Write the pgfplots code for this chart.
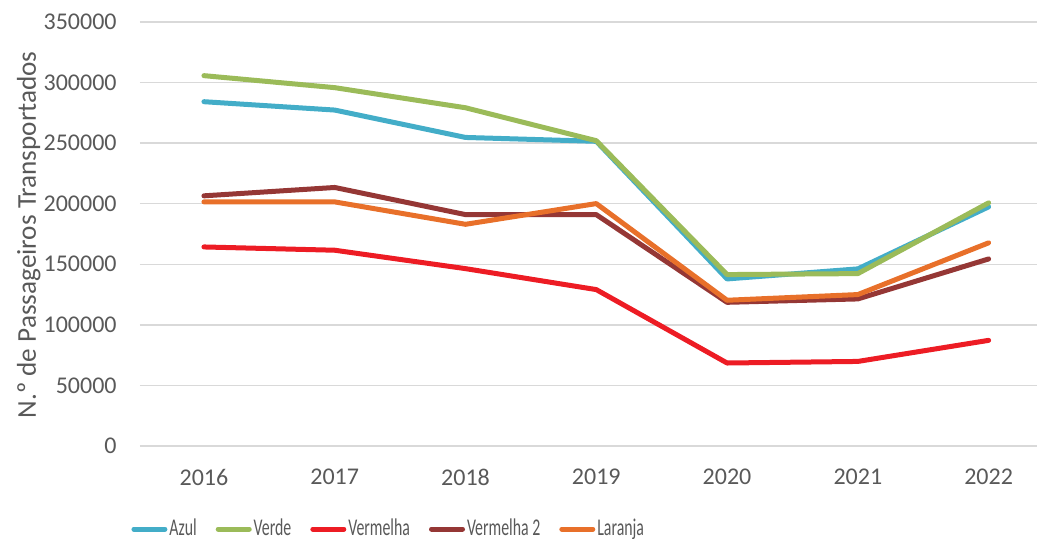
\documentclass[border=0pt]{standalone}
\usepackage{pgfplots}
\pgfplotsset{compat=1.18}
\usepackage{fontspec}
\setmainfont{Carlito}
\definecolor{txt}{HTML}{595959}
\definecolor{grd}{HTML}{D9D9D9}
\definecolor{azul}{HTML}{43ADC8}
\definecolor{verde}{HTML}{9BBB59}
\definecolor{vermelha}{HTML}{ED1C24}
\definecolor{vermelha2}{HTML}{953735}
\definecolor{laranja}{HTML}{E8702A}
\newcommand{\legtxt}[1]{\scalebox{0.66}[1]{#1}}
\begin{document}
\begin{tikzpicture}
\useasboundingbox (0,0) rectangle (519pt,269.5pt);
\begin{axis}[
  at={(70pt,46.5pt)}, anchor=south west,
  scale only axis, width=448.5pt, height=212pt,
  xmin=-0.489, xmax=6.37, ymin=0, ymax=350000,
  xtick={0,...,6},
  xticklabels={2016,2017,2018,2019,2020,2021,2022},
  ytick={0,50000,100000,150000,200000,250000,300000,350000},
  yticklabels={0,50000,100000,150000,200000,250000,300000,350000},
  scaled y ticks=false,
  ymajorgrids, grid style={grd, line width=0.75pt},
  axis line style={draw=none},
  major tick length=0pt,
  tick label style={font=\fontsize{12}{14}\selectfont, text=txt, inner sep=0pt},
  xticklabel style={anchor=center, yshift=-15.5pt},
  yticklabel style={anchor=east, xshift=-11.5pt},
  ylabel={N.º de Passageiros Transportados},
  ylabel style={font=\fontsize{13.6}{16}\selectfont, text=txt, anchor=center, inner sep=0pt, at={(axis description cs:-0.124,0.498)}},
  legend columns=5,
  legend style={draw=none, fill=none, inner sep=0pt, at={(axis description cs:-0.01,-0.196)}, anchor=west,
    font=\fontsize{12}{14}\selectfont, text=txt,
    nodes={inner sep=1pt},
    /tikz/every even column/.append style={column sep=8.5pt}},
  legend image code/.code={\draw[#1, line width=2.5pt, line cap=round] (1.25pt,0pt) -- (16.75pt,0pt);},
  every axis plot/.append style={line width=2.5pt, line cap=round, line join=round, mark=none},
]
\addplot[azul] coordinates {(0,284200) (1,277300) (2,254700) (3,251500) (4,137900) (5,146200) (6,197400)};
\addlegendentry{\legtxt{Azul}}
\addplot[verde] coordinates {(0,305700) (1,295800) (2,279200) (3,252000) (4,141500) (5,142300) (6,200700)};
\addlegendentry{\legtxt{Verde}}
\addplot[vermelha] coordinates {(0,164300) (1,161600) (2,146400) (3,129100) (4,68500) (5,69800) (6,87200)};
\addlegendentry{\legtxt{Vermelha}}
\addplot[vermelha2] coordinates {(0,206500) (1,213400) (2,191000) (3,191000) (4,118600) (5,121400) (6,154400)};
\addlegendentry{\legtxt{Vermelha 2}}
\addplot[laranja] coordinates {(0,201500) (1,201500) (2,183000) (3,200100) (4,120300) (5,125000) (6,167700)};
\addlegendentry{\legtxt{Laranja}}
\end{axis}
\end{tikzpicture}
\end{document}
